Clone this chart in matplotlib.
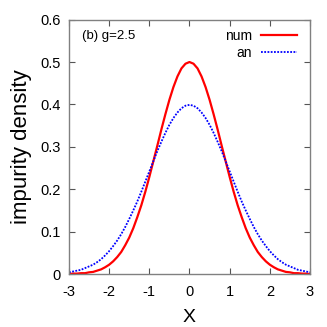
import matplotlib
matplotlib.use("Agg")
import matplotlib.pyplot as plt
from matplotlib import font_manager

x = [-3.0, -2.9, -2.8, -2.7, -2.6, -2.5, -2.4, -2.3, -2.2, -2.1,
     -2.0, -1.9, -1.8, -1.7, -1.6, -1.5, -1.4, -1.3, -1.2, -1.1,
     -1.0, -0.9, -0.8, -0.7, -0.6, -0.5, -0.4, -0.3, -0.2, -0.1,
     0.0, 0.1, 0.2, 0.3, 0.4, 0.5, 0.6, 0.7, 0.8, 0.9,
     1.0, 1.1, 1.2, 1.3, 1.4, 1.5, 1.6, 1.7, 1.8, 1.9,
     2.0, 2.1, 2.2, 2.3, 2.4, 2.5, 2.6, 2.7, 2.8, 2.9, 3.0]

num = [0.000, 0.001, 0.001, 0.002, 0.002, 0.004, 0.005, 0.008, 0.011, 0.016,
       0.022, 0.030, 0.040, 0.052, 0.068, 0.086, 0.108, 0.134, 0.162, 0.194,
       0.229, 0.266, 0.303, 0.341, 0.377, 0.411, 0.441, 0.466, 0.485, 0.496,
       0.500, 0.496, 0.485, 0.466, 0.441, 0.411, 0.377, 0.341, 0.303, 0.266,
       0.229, 0.194, 0.162, 0.134, 0.108, 0.086, 0.068, 0.052, 0.040, 0.030,
       0.022, 0.016, 0.011, 0.008, 0.005, 0.004, 0.002, 0.002, 0.001, 0.001, 0.000]

an = [0.004, 0.006, 0.008, 0.010, 0.014, 0.018, 0.022, 0.028, 0.035, 0.044,
      0.054, 0.066, 0.079, 0.094, 0.111, 0.130, 0.150, 0.171, 0.194, 0.218,
      0.242, 0.266, 0.290, 0.312, 0.333, 0.352, 0.368, 0.381, 0.391, 0.397,
      0.399, 0.397, 0.391, 0.381, 0.368, 0.352, 0.333, 0.312, 0.290, 0.266,
      0.242, 0.218, 0.194, 0.171, 0.150, 0.130, 0.111, 0.094, 0.079, 0.066,
      0.054, 0.044, 0.035, 0.028, 0.022, 0.018, 0.014, 0.010, 0.008, 0.006, 0.004]

xticks = [-3, -2, -1, 0, 1, 2, 3]
xticklabels = ["-3", "-2", "-1", "0", "1", "2", "3"]
yticks = [0, 0.1, 0.2, 0.3, 0.4, 0.5, 0.6]
yticklabels = ["0", "0.1", "0.2", "0.3", "0.4", "0.5", "0.6"]

names = {f.name for f in font_manager.fontManager.ttflist}
narrow = "Liberation Sans Narrow" if "Liberation Sans Narrow" in names else "Liberation Sans"
regular = "Liberation Sans"

fig = plt.figure(figsize=(3.27, 3.27), dpi=100)
ax = fig.add_axes([0.211, 0.162, 0.737, 0.778])

ax.plot(x, num, color="#ff0000", lw=1.6, label="num")
ax.plot(x, an, color="#0000ff", lw=1.3, linestyle=(0, (1, 0.8)), label="an")

ax.set_xlim(-3, 3)
ax.set_ylim(0, 0.6)
ax.set_xticks(xticks)
ax.set_xticklabels(xticklabels, fontfamily=narrow, fontsize=10.5)
ax.set_yticks(yticks)
ax.set_yticklabels(yticklabels, fontfamily=narrow, fontsize=10.5)
ax.tick_params(direction="in", length=4, width=0.8, color="#555555",
               top=True, right=True, pad=6)
ax.tick_params(axis="x", pad=8)
for s in ax.spines.values():
    s.set_color("#808080")
    s.set_linewidth(1.0)

ax.set_xlabel("X", fontfamily=narrow, fontsize=14, labelpad=7)
ax.set_ylabel("impurity density", fontfamily=regular, fontsize=16, labelpad=6)

ax.text(0.054, 0.935, "(b) g=2.5", transform=ax.transAxes, fontfamily=narrow,
        fontsize=9.5, ha="left", va="center")

leg = ax.legend(loc="upper right", markerfirst=False, frameon=False,
                prop={"family": narrow, "size": 10}, handlelength=2.6,
                handletextpad=0.6, labelspacing=0.2, borderaxespad=0.3,
                bbox_to_anchor=(0.985, 1.0))
for t in leg.get_texts():
    t.set_ha("right")

fig.savefig("out.png", dpi=100)
